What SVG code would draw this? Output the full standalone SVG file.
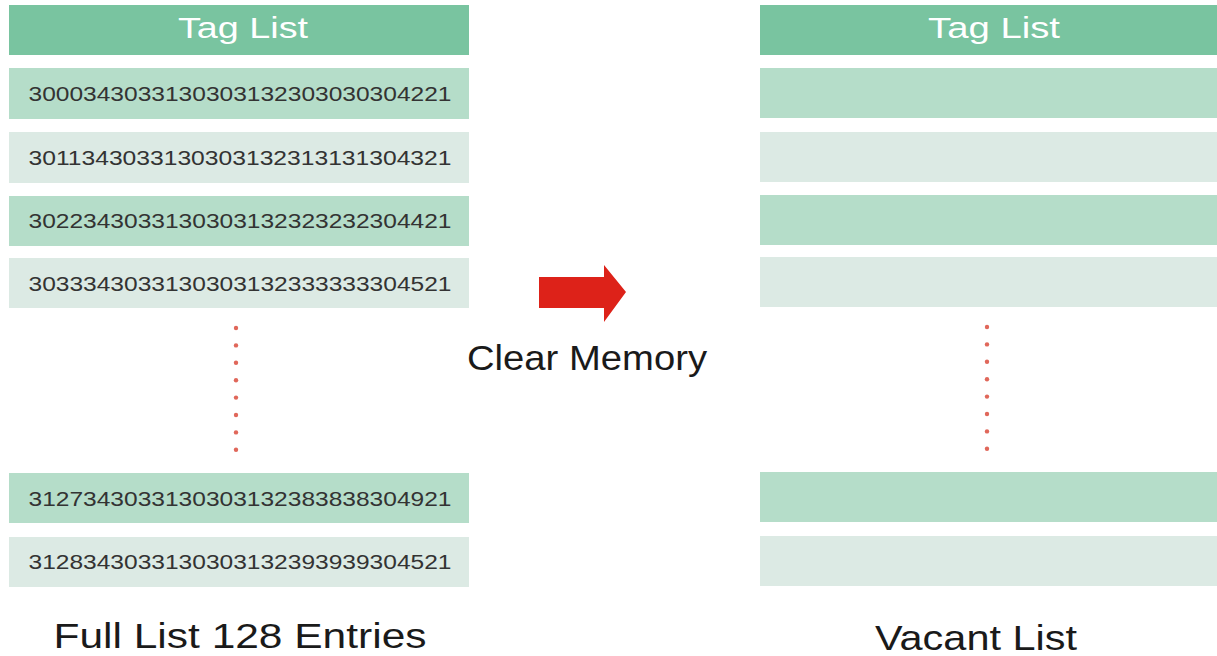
<svg xmlns="http://www.w3.org/2000/svg" width="1217" height="656" viewBox="0 0 1217 656">
<style>
.hdr{fill:#79c4a0}
.rd{fill:#b5ddc9}
.rl{fill:#dceae4}
.ht{font-family:"Liberation Sans",Arial,sans-serif;font-size:29px;fill:#ffffff;text-anchor:middle}
.num{font-family:"Liberation Sans",Arial,sans-serif;font-size:20px;fill:#333333;text-anchor:middle}
.lbl{font-family:"Liberation Sans",Arial,sans-serif;font-size:35px;fill:#1a1a1a;text-anchor:middle}
.dot{fill:#e0675a}
</style>
<rect width="1217" height="656" fill="#ffffff"/>
<g id="left-list">
<g id="left-header"><rect class="hdr" x="9" y="5" width="460" height="50"/><text class="ht" x="243" y="38" textLength="130" lengthAdjust="spacingAndGlyphs">Tag List</text></g>
<g id="left-row1"><rect class="rd" x="9" y="68" width="460" height="51"/><text class="num" x="240" y="101" textLength="423" lengthAdjust="spacingAndGlyphs">3000343033130303132303030304221</text></g>
<g id="left-row2"><rect class="rl" x="9" y="132" width="460" height="51"/><text class="num" x="240" y="165" textLength="423" lengthAdjust="spacingAndGlyphs">3011343033130303132313131304321</text></g>
<g id="left-row3"><rect class="rd" x="9" y="196" width="460" height="50"/><text class="num" x="240" y="228" textLength="423" lengthAdjust="spacingAndGlyphs">3022343033130303132323232304421</text></g>
<g id="left-row4"><rect class="rl" x="9" y="258" width="460" height="50"/><text class="num" x="240" y="291" textLength="423" lengthAdjust="spacingAndGlyphs">3033343033130303132333333304521</text></g>
<g id="left-dots">
<circle class="dot" cx="236" cy="328" r="2.2"/><circle class="dot" cx="236" cy="345.4" r="2.2"/><circle class="dot" cx="236" cy="362.8" r="2.2"/><circle class="dot" cx="236" cy="380.2" r="2.2"/><circle class="dot" cx="236" cy="397.6" r="2.2"/><circle class="dot" cx="236" cy="415" r="2.2"/><circle class="dot" cx="236" cy="432.4" r="2.2"/><circle class="dot" cx="236" cy="449.8" r="2.2"/>
</g>
<g id="left-row127"><rect class="rd" x="9" y="473" width="460" height="50"/><text class="num" x="240" y="506" textLength="423" lengthAdjust="spacingAndGlyphs">3127343033130303132383838304921</text></g>
<g id="left-row128"><rect class="rl" x="9" y="537" width="460" height="50"/><text class="num" x="240" y="569" textLength="423" lengthAdjust="spacingAndGlyphs">3128343033130303132393939304521</text></g>
<text class="lbl" x="240" y="648" textLength="373" lengthAdjust="spacingAndGlyphs">Full List 128 Entries</text>
</g>
<g id="connectors">
<polygon points="539,277 604,277 604,265 626,292 604,322 604,308 539,308" fill="#dd2219"/>
</g>
<g id="action-label">
<text class="lbl" x="587" y="370" textLength="240" lengthAdjust="spacingAndGlyphs">Clear Memory</text>
</g>
<g id="right-list">
<g id="right-header"><rect class="hdr" x="760" y="5" width="457" height="50"/><text class="ht" x="994" y="38" textLength="132" lengthAdjust="spacingAndGlyphs">Tag List</text></g>
<g id="right-row1"><rect class="rd" x="760" y="68" width="457" height="50"/></g>
<g id="right-row2"><rect class="rl" x="760" y="132" width="457" height="50"/></g>
<g id="right-row3"><rect class="rd" x="760" y="195" width="457" height="50"/></g>
<g id="right-row4"><rect class="rl" x="760" y="257" width="457" height="50"/></g>
<g id="right-dots">
<circle class="dot" cx="987" cy="327" r="2.2"/><circle class="dot" cx="987" cy="344.4" r="2.2"/><circle class="dot" cx="987" cy="361.8" r="2.2"/><circle class="dot" cx="987" cy="379.2" r="2.2"/><circle class="dot" cx="987" cy="396.6" r="2.2"/><circle class="dot" cx="987" cy="414" r="2.2"/><circle class="dot" cx="987" cy="431.4" r="2.2"/><circle class="dot" cx="987" cy="448.8" r="2.2"/>
</g>
<g id="right-row127"><rect class="rd" x="760" y="472" width="457" height="50"/></g>
<g id="right-row128"><rect class="rl" x="760" y="536" width="457" height="50"/></g>
<text class="lbl" x="976" y="650" textLength="202" lengthAdjust="spacingAndGlyphs">Vacant List</text>
</g>
</svg>
